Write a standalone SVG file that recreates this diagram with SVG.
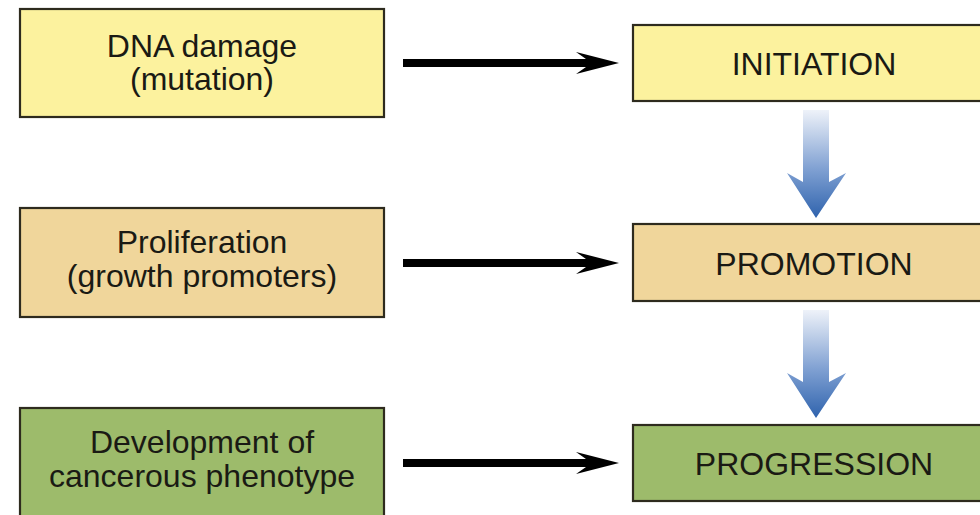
<svg xmlns="http://www.w3.org/2000/svg" width="980" height="515" viewBox="0 0 980 515">
<defs>
<linearGradient id="blue" x1="0" y1="0" x2="0" y2="1">
<stop offset="0" stop-color="#eef2f9"/>
<stop offset="0.55" stop-color="#7fa0d2"/>
<stop offset="1" stop-color="#2f63ad"/>
</linearGradient>
<style>
.box{stroke:#2e2b1e;stroke-width:2.2}
.yel{fill:#fcf29e}
.tan{fill:#f0d69b}
.grn{fill:#9dbb6b}
.t{font-family:"Liberation Sans",Arial,sans-serif;font-size:32px;fill:#1a1a14;text-anchor:middle}
.blk{fill:#000}
.bl{fill:url(#blue)}
</style>
</defs>
<rect width="980" height="515" fill="#fff"/>
<g id="dna">
<rect class="box yel" x="20" y="9" width="364" height="108"/>
<text class="t" x="202" y="57">DNA damage</text>
<text class="t" x="202" y="90">(mutation)</text>
</g>
<g id="prolif">
<rect class="box tan" x="20" y="208" width="364" height="109"/>
<text class="t" x="202" y="253">Proliferation</text>
<text class="t" x="202" y="287">(growth promoters)</text>
</g>
<g id="dev">
<rect class="box grn" x="20" y="408" width="364" height="115"/>
<text class="t" x="202" y="453">Development of</text>
<text class="t" x="202" y="487">cancerous phenotype</text>
</g>
<g id="initiation">
<rect class="box yel" x="633" y="25" width="360" height="76"/>
<text class="t" x="814" y="75">INITIATION</text>
</g>
<g id="promotion">
<rect class="box tan" x="633" y="224" width="360" height="77"/>
<text class="t" x="814" y="275">PROMOTION</text>
</g>
<g id="progression">
<rect class="box grn" x="633" y="425" width="360" height="76"/>
<text class="t" x="814" y="475">PROGRESSION</text>
</g>
<g id="connectors">
<polygon class="blk" points="403,59 586,59 576,52 619,63 576,74 586,67 403,67"/>
<polygon class="blk" points="403,259 586,259 576,252 619,263 576,274 586,267 403,267"/>
<polygon class="blk" points="403,459 586,459 576,452 619,463 576,474 586,467 403,467"/>
<polygon class="bl" points="803,110 829,110 829,182 846,173 816,218 787,173 803,182"/>
<polygon class="bl" points="803,310 829,310 829,382 846,373 816,418 787,373 803,382"/>
</g>
</svg>
